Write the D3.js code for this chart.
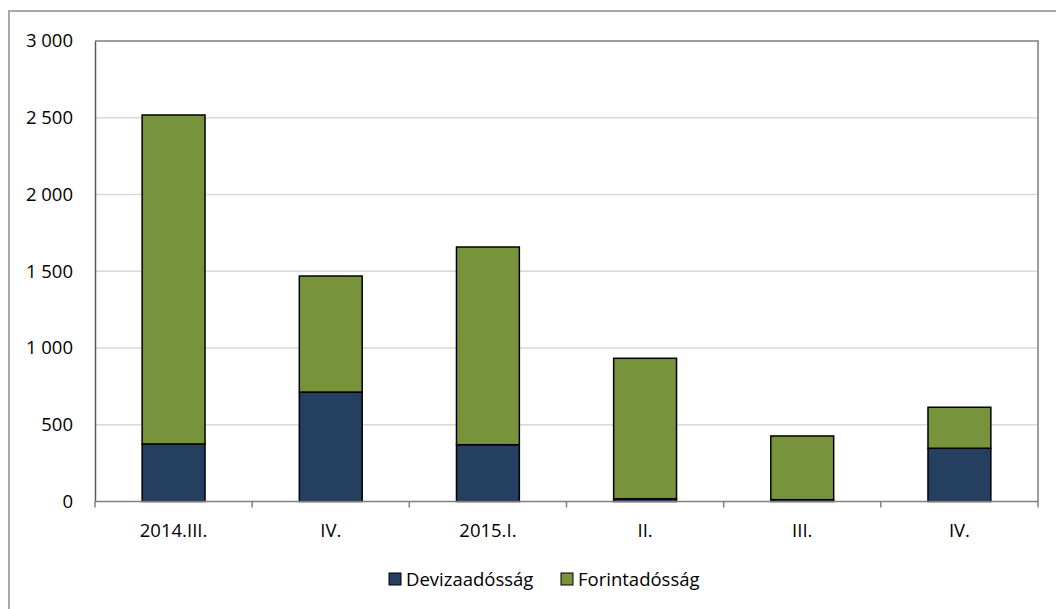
<!DOCTYPE html>
<html>
<head>
<meta charset="utf-8">
<script src="https://cdn.jsdelivr.net/npm/d3@7/dist/d3.min.js"></script>
<style>
  html, body { margin: 0; padding: 0; background: #fff; }
  svg { display: block; }
  text { font-family: "Open Sans", Lato, sans-serif; fill: #000; }
</style>
</head>
<body>
<svg id="chart" width="1056" height="609"></svg>
<script>
// Quarterly debt, split into foreign-currency and forint parts
const categories = ["2014.III.", "IV.", "2015.I.", "II.", "III.", "IV."];
const devizaadossag = [375, 713, 370, 18, 12, 347];
const forintadossag = [2143, 756, 1288, 915, 415, 267];
const seriesNames = ["Devizaadósság", "Forintadósság"];
const seriesColors = ["#243f60", "#77933c"];
const yTicks = [0, 500, 1000, 1500, 2000, 2500, 3000];

const svg = d3.select("#chart");
const W = 1056, H = 609;
const plot = { left: 95, top: 41, right: 1038, bottom: 501.5 };

// Outer frame (left and top edges)
svg.append("path")
  .attr("d", `M9,${H} L9,11 L${W},11`)
  .attr("fill", "none").attr("stroke", "#8c8c8c").attr("stroke-width", 1.5);

// Categories are keyed by index since labels repeat ("IV.")
const idx = categories.map((c, i) => i);
const xOuter = d3.scaleBand().domain(idx).range([plot.left, plot.right]);
const barW = xOuter.bandwidth() * 0.4;
const barX = i => xOuter(i) + (xOuter.bandwidth() - barW) / 2;
const y = d3.scaleLinear().domain([0, 3000]).range([plot.bottom, plot.top]);

const fmt = v => d3.format(",")(v).replace(/,/g, " ");

// Horizontal gridlines
svg.append("g").selectAll("line").data(yTicks.filter(t => t > 0 && t < 3000)).join("line")
  .attr("x1", plot.left).attr("x2", plot.right)
  .attr("y1", d => y(d)).attr("y2", d => y(d))
  .attr("stroke", "#d9d9d9").attr("stroke-width", 1.5);

// Plot area border (top/right)
svg.append("path")
  .attr("d", `M${plot.left},${plot.top} L${plot.right},${plot.top} L${plot.right},${plot.bottom}`)
  .attr("fill", "none").attr("stroke", "#7f7f7f").attr("stroke-width", 1.5);

// Stacked bars
const rows = idx.map(i => ({ i, vals: [devizaadossag[i], forintadossag[i]] }));
const stack = d3.stack().keys([0, 1]).value((d, k) => d.vals[k]);
const layers = stack(rows);

svg.append("g").selectAll("g").data(layers).join("g")
  .attr("fill", (d, i) => seriesColors[i])
  .selectAll("rect").data(d => d).join("rect")
  .attr("x", d => barX(d.data.i))
  .attr("width", barW)
  .attr("y", d => y(d[1]))
  .attr("height", d => y(d[0]) - y(d[1]))
  .attr("stroke", "#000").attr("stroke-width", 1.5);

// Y axis
const yAxis = svg.append("g").attr("transform", `translate(${plot.left},0)`)
  .call(d3.axisLeft(y).tickValues(yTicks).tickFormat(fmt).tickSize(0).tickPadding(22));
yAxis.attr("font-size", null).attr("font-family", null);
yAxis.select(".domain").attr("stroke", "#595959").attr("stroke-width", 1.5);
yAxis.selectAll("text").attr("font-size", 18.5).attr("fill", "#000");

// X axis with ticks at category boundaries
const xAxisG = svg.append("g").attr("transform", `translate(0,${plot.bottom})`);
xAxisG.append("line").attr("x1", plot.left).attr("x2", plot.right)
  .attr("stroke", "#7f7f7f").attr("stroke-width", 1.5);
const bounds = idx.map(i => xOuter(i)).concat([plot.right]);
xAxisG.selectAll("line.tick").data(bounds).join("line").attr("class", "tick")
  .attr("x1", d => d).attr("x2", d => d).attr("y1", 0).attr("y2", 6)
  .attr("stroke", "#7f7f7f").attr("stroke-width", 1.5);
xAxisG.selectAll("text").data(idx).join("text")
  .attr("x", i => xOuter(i) + xOuter.bandwidth() / 2).attr("y", 35)
  .attr("text-anchor", "middle").attr("font-size", 18.5).text(i => categories[i]);

// Legend
const legend = svg.append("g");
const legendItems = [{ x: 389, name: seriesNames[0], color: seriesColors[0] },
                     { x: 561, name: seriesNames[1], color: seriesColors[1] }];
legendItems.forEach(it => {
  legend.append("rect").attr("x", it.x).attr("y", 573).attr("width", 12).attr("height", 12)
    .attr("fill", it.color).attr("stroke", "#000").attr("stroke-width", 1);
  legend.append("text").attr("x", it.x + 17).attr("y", 586)
    .attr("font-size", 18.5).text(it.name);
});
</script>
</body>
</html>
